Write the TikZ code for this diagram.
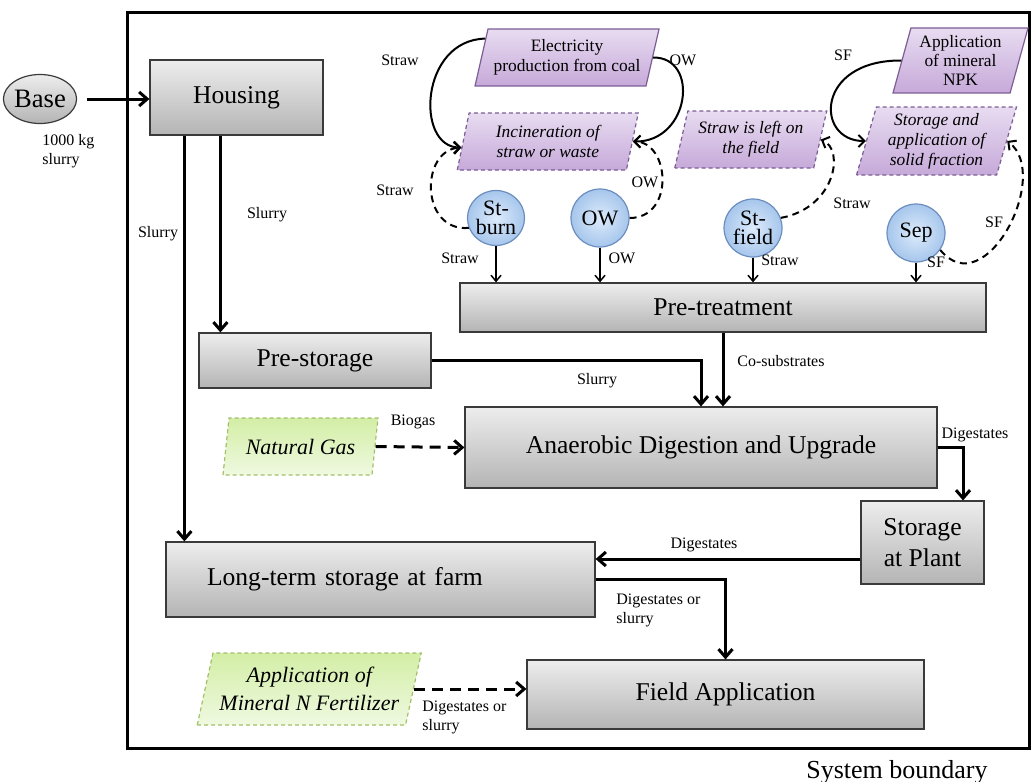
\documentclass[tikz,border=0pt]{standalone}
\usepackage{fontspec}
\setmainfont{Liberation Serif}
\usetikzlibrary{shapes.geometric,arrows.meta}

\definecolor{boxtop}{HTML}{EDEDED}
\definecolor{boxbot}{HTML}{B4B4B4}
\definecolor{boxedge}{HTML}{3A3A3A}
\definecolor{subin}{HTML}{DDEBFB}
\definecolor{subout}{HTML}{A6C6EC}
\definecolor{subedge}{HTML}{6C8EBF}
\definecolor{alttop}{HTML}{E8DCF1}
\definecolor{altbot}{HTML}{C6A9D9}
\definecolor{altedge}{HTML}{7D5D96}
\definecolor{fostop}{HTML}{D3EEA6}
\definecolor{fosbot}{HTML}{EFF9E0}
\definecolor{fosedge}{HTML}{A3BF6A}

\begin{document}
\begin{tikzpicture}[x=0.5pt,y=-0.5pt,
    proc/.style={rectangle,draw=boxedge,line width=0.6pt,top color=boxtop,bottom color=boxbot,
      inner sep=0pt,align=center,font=\fontsize{12.8}{15.5}\selectfont},
    sub/.style={circle,draw=subedge,line width=0.6pt,inner color=subin,outer color=subout,
      minimum size=29pt,inner sep=0pt,align=center,font=\fontsize{11}{9.5}\selectfont},
    alt/.style={trapezium,trapezium left angle=71,trapezium right angle=109,trapezium stretches body,
      draw=altedge,line width=0.6pt,top color=alttop,bottom color=altbot,inner sep=0.5pt,
      align=center,font=\fontsize{8.7}{10}\selectfont},
    refalt/.style={alt,dash pattern=on 2pt off 1.5pt,font=\fontsize{8.7}{10}\selectfont\itshape},
    fossil/.style={alt,draw=fosedge,dash pattern=on 2pt off 1.5pt,top color=fostop,bottom color=fosbot,
      font=\fontsize{11}{14}\selectfont\itshape},
    flow/.style={-{Straight Barb[length=4pt,width=7pt]},line width=1.5pt},
    thinflow/.style={-{Straight Barb[length=3pt,width=5pt]},line width=0.75pt},
    swap/.style={-{Straight Barb[length=3pt,width=6pt]},line width=1pt},
    avoid/.style={swap,dash pattern=on 3.5pt off 2.5pt},
    lbl/.style={inner sep=0pt,align=left,font=\fontsize{8}{9.5}\selectfont}]

    \useasboundingbox (0,0) rectangle (1031,781);
    \draw[line width=1.5pt] (127,13) rectangle (1029,748);
    \node[font=\fontsize{13}{15}\selectfont] (sysb) at (897,772) {System boundary};

    \node[ellipse,draw=boxedge,line width=0.6pt,top color=boxtop,bottom color=boxbot,
      minimum width=29pt,minimum height=24.5pt,inner sep=0pt,font=\fontsize{13.3}{14}\selectfont] (base) at (40,99) {Base};
    \node[lbl,anchor=west] (input) at (42,151) {1000 kg\\slurry};

    \node[proc,minimum width=86.5pt,minimum height=37.5pt] (housing) at (236.5,97.5) {Housing};
    \node[proc,minimum width=116pt,minimum height=27.5pt] (prestore) at (315,360.5) {Pre-storage};
    \node[proc,minimum width=263pt,minimum height=24.5pt] (pretreat) at (723,307.5) {Pre-treatment};
    \node[proc,minimum width=236pt,minimum height=40.5pt] (ad) at (701,447.5) {Anaerobic Digestion and Upgrade};
    \node[proc,minimum width=61.5pt,minimum height=41.5pt] (plantstore) at (922.5,542.5) {Storage\\at Plant};
    \node[proc,minimum width=214.5pt,minimum height=37.5pt,text width=173.5pt,inner xsep=20.5pt,align=left] (longterm) at (380.5,579.5) {Long-term storage at farm};
    \node[proc,minimum width=198.5pt,minimum height=34.5pt] (field) at (725.5,694.5) {Field Application};

    \node[sub,ellipse,minimum width=24pt,minimum height=27.5pt] (stburn) at (496,218) {St-\\burn};
    \node[sub] (ow) at (600,218) {OW};
    \node[sub] (stfield) at (753,228) {St-\\field};
    \node[sub] (sep) at (916,233) {Sep};

    \node[alt,minimum width=92pt,minimum height=28.5pt] (elec) at (567,57.5) {Electricity\\production from coal};
    \node[refalt,minimum width=90.5pt,minimum height=28.5pt] (incin) at (547.75,141.5) {Incineration of\\straw or waste};
    \node[refalt,minimum width=76pt,minimum height=28.5pt] (strawfield) at (750.75,139.5) {Straw is left on\\the field};
    \node[refalt,minimum width=80pt,minimum height=34pt] (solidfr) at (936.5,141) {Storage and\\application of\\solid fraction};
    \node[alt,minimum width=67.5pt,minimum height=32.5pt,font=\fontsize{8.7}{9.5}\selectfont] (npk) at (960.5,60.5) {Application\\of mineral\\NPK};
    \node[fossil,minimum width=77.5pt,minimum height=28.5pt] (natgas) at (300.5,446.5) {Natural Gas};
    \node[fossil,minimum width=112pt,minimum height=36pt] (nfert) at (309.25,689) {Application of\\Mineral N Fertilizer};

    \coordinate (h1) at ([xshift=17.5pt]housing.south west);
    \coordinate (h2) at ([xshift=35.5pt]housing.south west);
    \coordinate (d1) at ([yshift=-8.25pt]plantstore.west);

    \draw[flow] ([xshift=5pt]base.east) -- (base -| housing.west);
    \draw[flow] (h1) -- (h1 |- longterm.north);
    \draw[flow] (h2) -- (h2 |- prestore.north);
    \draw[flow] (prestore.east) -| (ad.north);
    \draw[flow] (pretreat.south) -- (pretreat.south |- ad.north);
    \draw[flow,dash pattern=on 5.5pt off 3.5pt] (natgas.east) -- (ad.west);
    \draw[flow] (ad.east) -| ([xshift=20.25pt]plantstore.north);
    \draw[flow] (d1) -- (d1 -| longterm.east);
    \draw[flow] (longterm.east) -| (field.north);
    \draw[flow,dash pattern=on 5.5pt off 3.5pt] (nfert.east) -- (nfert.east -| field.west);

    \draw[thinflow] (stburn.south) -- (stburn.south |- pretreat.north);
    \draw[thinflow] (ow.south) -- (ow.south |- pretreat.north);
    \draw[thinflow] (stfield.south) -- (stfield.south |- pretreat.north);
    \draw[thinflow] (sep.south) -- (sep.south |- pretreat.north);

    \draw[swap] (elec.167) .. controls (420,40) and (415,147) .. (incin.184);
    \draw[swap] (elec.east) .. controls (700,57) and (690,142) .. (incin.east);
    \draw[avoid] (stburn.200) .. controls (420,232) and (420,150) .. (incin.184);
    \draw[avoid] (ow.east) .. controls (675,218) and (670,142) .. (incin.east);
    \draw[avoid] (stfield.20) .. controls (835,208) and (845,150) .. (strawfield.east);
    \draw[swap] (npk.west) .. controls (815,60) and (815,141) .. (solidfr.west);
    \draw[avoid] (sep.-35) .. controls (985,305) and (1052,175) .. (solidfr.east);

    \node[lbl] (l1) at (400,60) {Straw};
    \node[lbl] (l2) at (683,60) {OW};
    \node[lbl] (l3) at (395,190) {Straw};
    \node[lbl] (l4) at (645,182) {OW};
    \node[lbl] (l5) at (460,258) {Straw};
    \node[lbl] (l6) at (622,258) {OW};
    \node[lbl] (l7) at (780,260) {Straw};
    \node[lbl] (l8) at (936,262) {SF};
    \node[lbl] (l9) at (852,203) {Straw};
    \node[lbl] (l10) at (994,222) {SF};
    \node[lbl] (l11) at (843,55) {SF};
    \node[lbl] (l12) at (158,234) {Slurry};
    \node[lbl] (l13) at (267,215) {Slurry};
    \node[lbl] (l14) at (597,381) {Slurry};
    \node[lbl] (l15) at (781,361) {Co-substrates};
    \node[lbl] (l16) at (413,422) {Biogas};
    \node[lbl] (l17) at (975,435) {Digestates};
    \node[lbl] (l18) at (704,545) {Digestates};
    \node[lbl,anchor=west] (l19) at (616,610) {Digestates or\\slurry};
    \node[lbl,anchor=west] (l20) at (422,717) {Digestates or\\slurry};

\end{tikzpicture}
\end{document}
